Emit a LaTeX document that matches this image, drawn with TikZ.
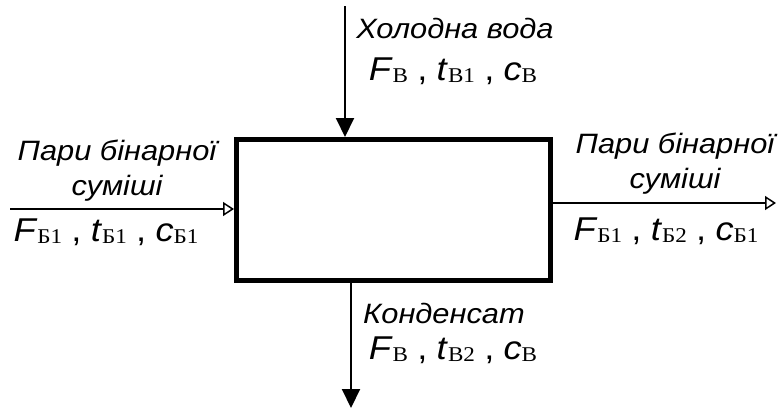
\documentclass[tikz,border=0pt]{standalone}
\usepackage{fontspec}
\setmainfont{Liberation Sans}[FakeStretch=1.1]
\newfontfamily\subfont{Liberation Serif}[FakeStretch=1.1]
\usetikzlibrary{arrows.meta}

% flow quantity: italic sans symbol with an upright serif index
\newcommand{\flowq}[2]{\textit{#1}\raisebox{-2pt}{\subfont\fontsize{21}{21}\selectfont #2}}
\newcommand{\sep}{\hspace{0.28em},\hspace{0.28em}}

\tikzset{
  flow/.style={line width=2pt},
  solid tip/.style={-{Triangle[length=19pt,width=18pt]}},
  open tip/.style={-{Triangle[open,length=11pt,width=14pt,line width=1.5pt]}},
  caption/.style={font=\fontsize{28}{35}\selectfont\itshape, inner sep=0pt, align=center},
  params/.style={font=\fontsize{33}{34}\selectfont, inner sep=0pt},
}

\begin{document}
\begin{tikzpicture}[x=1pt,y=-1pt]
\useasboundingbox (0,0) rectangle (778,410);

% condenser block
\node (box) [draw, line width=5pt, minimum width=313.5pt, minimum height=140.5pt, inner sep=0pt]
  at (393.25,209.75) {};

% cold water in
\coordinate (win) at (345,6);
\draw[flow, solid tip] (win) -- (win |- box.north);
\node (wlabel) [caption] at (455,28) {Холодна вода};
\node (wpar) [params] at (453,71) {\flowq{F}{В}\sep\flowq{t}{В1}\sep\flowq{c}{В}};

% condensate out
\coordinate (wout) at (351,408);
\draw[flow, solid tip] (wout |- box.south) -- (wout);
\node (clabel) [caption] at (444,313) {Конденсат};
\node (cpar) [params] at (453,350) {\flowq{F}{В}\sep\flowq{t}{В2}\sep\flowq{c}{В}};

% binary mixture vapour in
\coordinate (vin) at (10,209);
\draw[flow, open tip] (vin) -- (vin -| box.west);
\node (vlabel) [caption] at (117,171) {Пари бінарної\\суміші};
\node (vpar) [params] at (106,232) {\flowq{F}{Б1}\sep\flowq{t}{Б1}\sep\flowq{c}{Б1}};

% binary mixture vapour out
\coordinate (vout) at (776,203);
\draw[flow, open tip] (vout -| box.east) -- (vout);
\node (olabel) [caption] at (675,164) {Пари бінарної\\суміші};
\node (opar) [params] at (666,231) {\flowq{F}{Б1}\sep\flowq{t}{Б2}\sep\flowq{c}{Б1}};
\end{tikzpicture}
\end{document}
